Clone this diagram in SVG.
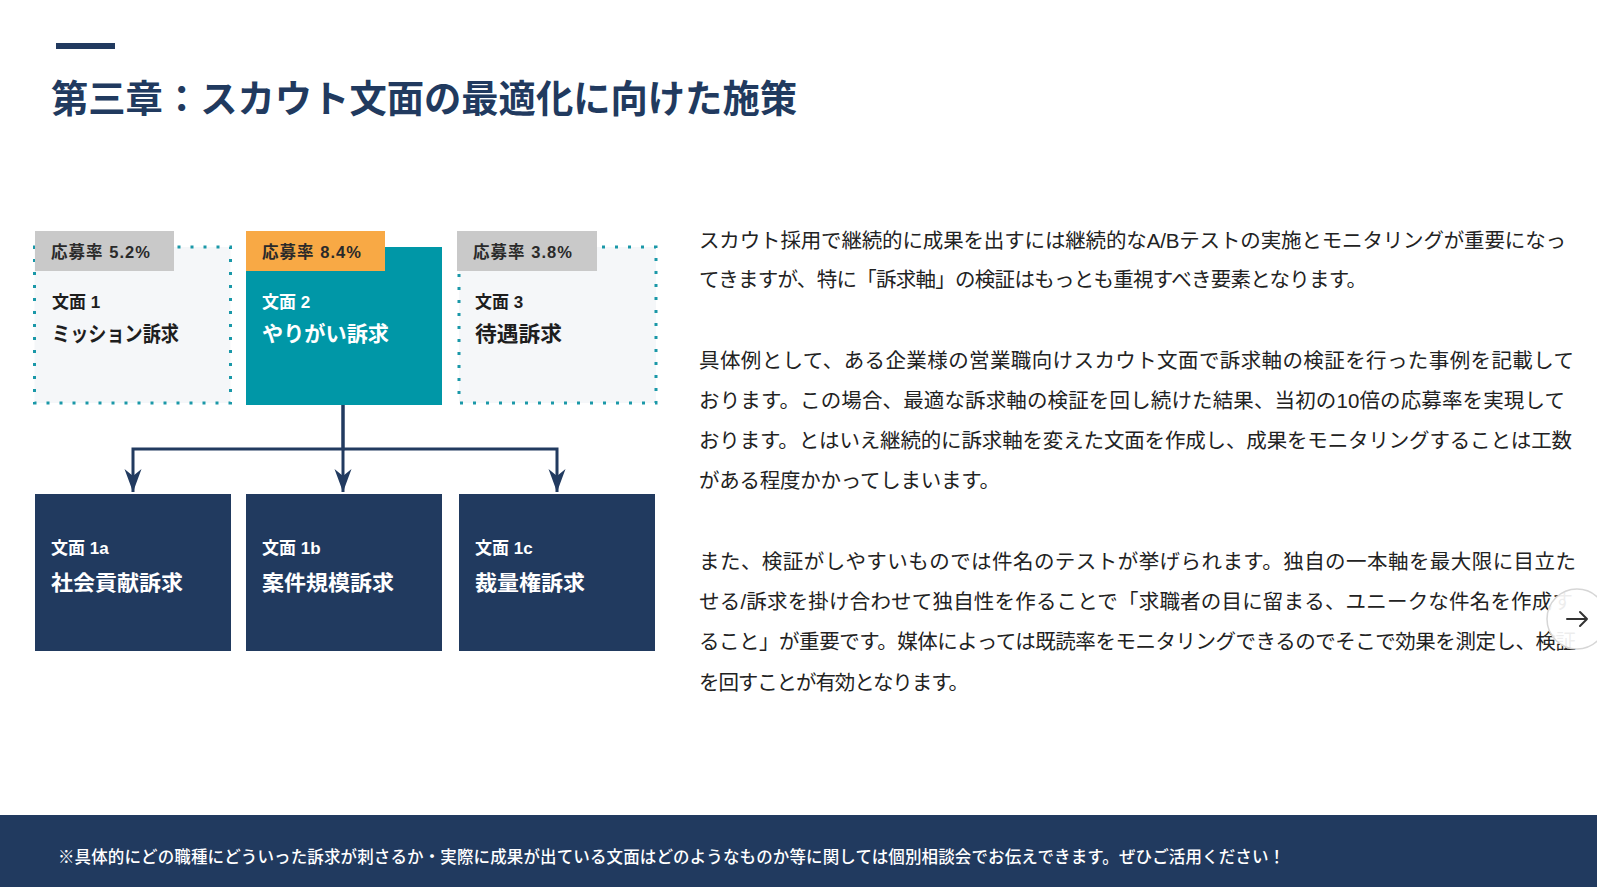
<svg xmlns="http://www.w3.org/2000/svg" width="1597" height="887" viewBox="0 0 1597 887">
<defs>
<style>
.f{font-family:"Liberation Sans","Noto Sans CJK JP",sans-serif}
.title{font-size:37.5px;font-weight:700;fill:#213a5f}
.lbl{font-size:16.5px;font-weight:700;fill:#2a2a2a}
.sub{font-size:17px;font-weight:700}
.main{font-size:21px;font-weight:700}
.dark{fill:#1e1e1e}
.white{fill:#ffffff}
.body{font-size:20.5px;font-weight:400;fill:#222222}
.dot{fill:#f5f7f9;stroke:#1a98a8;stroke-width:3;stroke-dasharray:3 10}
.navy{fill:#213a5f}
.conn{fill:none;stroke:#223b60;stroke-width:3}
</style>
<marker id="arr" markerUnits="userSpaceOnUse" markerWidth="24" markerHeight="20" viewBox="0 0 24 20" refX="23" refY="10" orient="auto">
<path d="M0,1.5 L23,10 L0,18.5 L7,10 Z" fill="#223b60"/>
</marker>
</defs>
<rect x="0" y="0" width="1597" height="887" fill="#ffffff"/>
<rect x="56" y="43" width="59" height="6" fill="#213a5f"/>
<text class="f title" x="51" y="112" textLength="746" lengthAdjust="spacingAndGlyphs">第三章：スカウト文面の最適化に向けた施策</text>

<g id="connectors">
<path class="conn" d="M343,405 V449 H133 V492" marker-end="url(#arr)"/>
<path class="conn" d="M343,405 V492" marker-end="url(#arr)"/>
<path class="conn" d="M343,449 H557 V492" marker-end="url(#arr)"/>
</g>

<g id="node-bunmen1">
<rect class="dot" x="34.5" y="247" width="196" height="156"/>
<rect x="35" y="231" width="139" height="40" fill="#c9c9c9"/>
<text class="f lbl" x="51" y="258" textLength="99" lengthAdjust="spacing">応募率 5.2%</text>
<text class="f sub dark" x="52" y="308">文面 1</text>
<text class="f main dark" x="52" y="341" textLength="127" lengthAdjust="spacingAndGlyphs">ミッション訴求</text>
</g>

<g id="node-bunmen2">
<rect x="246" y="247" width="196" height="158" fill="#0097a7"/>
<rect x="246" y="231" width="139" height="40" fill="#f8a945"/>
<text class="f lbl" x="262" y="258" textLength="99" lengthAdjust="spacing">応募率 8.4%</text>
<text class="f sub white" x="262" y="308">文面 2</text>
<text class="f main white" x="262" y="341" textLength="127" lengthAdjust="spacingAndGlyphs">やりがい訴求</text>
</g>

<g id="node-bunmen3">
<rect class="dot" x="459" y="247" width="197" height="156"/>
<rect x="457" y="231" width="140" height="40" fill="#c9c9c9"/>
<text class="f lbl" x="473" y="258" textLength="99" lengthAdjust="spacing">応募率 3.8%</text>
<text class="f sub dark" x="475" y="308">文面 3</text>
<text class="f main dark" x="475" y="341" textLength="87" lengthAdjust="spacingAndGlyphs">待遇訴求</text>
</g>

<g id="node-bunmen1a">
<rect class="navy" x="35" y="494" width="196" height="157"/>
<text class="f sub white" x="51" y="554">文面 1a</text>
<text class="f main white" x="51" y="590" textLength="132" lengthAdjust="spacingAndGlyphs">社会貢献訴求</text>
</g>

<g id="node-bunmen1b">
<rect class="navy" x="246" y="494" width="196" height="157"/>
<text class="f sub white" x="262" y="554">文面 1b</text>
<text class="f main white" x="262" y="590" textLength="132" lengthAdjust="spacingAndGlyphs">案件規模訴求</text>
</g>

<g id="node-bunmen1c">
<rect class="navy" x="459" y="494" width="196" height="157"/>
<text class="f sub white" x="475" y="554">文面 1c</text>
<text class="f main white" x="475" y="590" textLength="110" lengthAdjust="spacingAndGlyphs">裁量権訴求</text>
</g>

<g id="body-text">
<text class="f body" x="699" y="248" textLength="867" lengthAdjust="spacing">スカウト採用で継続的に成果を出すには継続的なA/Bテストの実施とモニタリングが重要になっ</text>
<text class="f body" x="699" y="287" textLength="668" lengthAdjust="spacing">てきますが、特に「訴求軸」の検証はもっとも重視すべき要素となります。</text>
<text class="f body" x="699" y="368" textLength="875" lengthAdjust="spacing">具体例として、ある企業様の営業職向けスカウト文面で訴求軸の検証を行った事例を記載して</text>
<text class="f body" x="699" y="408" textLength="866" lengthAdjust="spacing">おります。この場合、最適な訴求軸の検証を回し続けた結果、当初の10倍の応募率を実現して</text>
<text class="f body" x="699" y="448" textLength="873" lengthAdjust="spacing">おります。とはいえ継続的に訴求軸を変えた文面を作成し、成果をモニタリングすることは工数</text>
<text class="f body" x="699" y="488" textLength="301" lengthAdjust="spacing">がある程度かかってしまいます。</text>
<text class="f body" x="699" y="569" textLength="877" lengthAdjust="spacing">また、検証がしやすいものでは件名のテストが挙げられます。独自の一本軸を最大限に目立た</text>
<text class="f body" x="699" y="609" textLength="874" lengthAdjust="spacing">せる/訴求を掛け合わせて独自性を作ることで「求職者の目に留まる、ユニークな件名を作成す</text>
<text class="f body" x="699" y="649" textLength="877" lengthAdjust="spacing">ること」が重要です。媒体によっては既読率をモニタリングできるのでそこで効果を測定し、検証</text>
<text class="f body" x="699" y="690" textLength="270" lengthAdjust="spacing">を回すことが有効となります。</text>
</g>

<g id="next-button">
<circle cx="1577" cy="619" r="30" fill="#ffffff" fill-opacity="0.92" stroke="#d6d6d6" stroke-width="1.5"/>
<path d="M1567,619 H1587 M1580,612 L1587,619 L1580,626" fill="none" stroke="#333333" stroke-width="2" stroke-linecap="round" stroke-linejoin="round"/>
</g>

<g id="footer">
<rect x="0" y="815" width="1597" height="72" fill="#213a5f"/>
<text class="f" x="58" y="863" font-size="16.5" font-weight="500" fill="#ffffff" textLength="1227" lengthAdjust="spacing">※具体的にどの職種にどういった訴求が刺さるか・実際に成果が出ている文面はどのようなものか等に関しては個別相談会でお伝えできます。ぜひご活用ください！</text>
</g>
</svg>
